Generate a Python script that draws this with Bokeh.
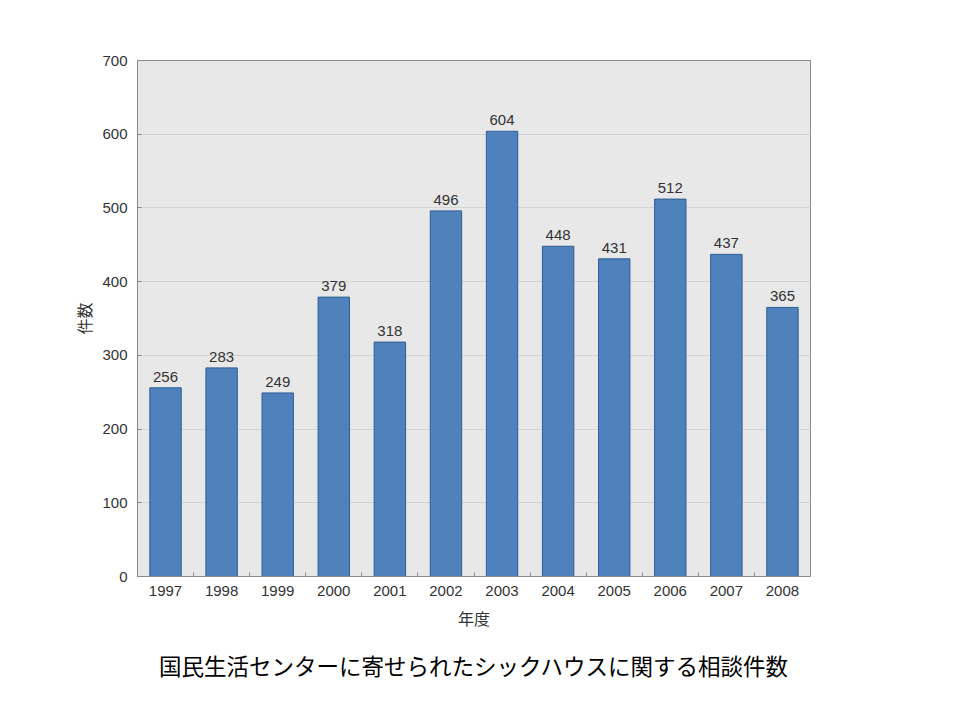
from bokeh.plotting import figure
from bokeh.models import ColumnDataSource, FixedTicker, Title
from bokeh.core.properties import value
from bokeh.embed import file_html
from bokeh.resources import INLINE

years = [1997, 1998, 1999, 2000, 2001, 2002, 2003, 2004, 2005, 2006, 2007, 2008]
counts = [256, 283, 249, 379, 318, 496, 604, 448, 431, 512, 437, 365]
y_ticks = [0, 100, 200, 300, 400, 500, 600, 700]
title_text = "国民生活センターに寄せられたシックハウスに関する相談件数"
x_label = "年度"
y_label = "件数"

labels = [str(c) for c in counts]
src = ColumnDataSource(dict(x=years, top=counts, label=labels))

AX = "#8a8a8a"
TXT = "#333333"

p = figure(width=940, height=705,
           x_range=(years[0] - 0.5, years[-1] + 0.5), y_range=(y_ticks[0], y_ticks[-1]),
           output_backend="svg", toolbar_location=None,
           min_border_left=137, min_border_right=130, min_border_top=60, min_border_bottom=129)
p.background_fill_color = "#e8e8e8"
p.border_fill_color = "white"
p.outline_line_color = AX

p.vbar(x="x", top="top", width=0.56, source=src,
       fill_color="#4f81bd", line_color="#2f5f94", line_width=1)
p.text(x="x", y="top", text="label", source=src, text_align="center", text_baseline="bottom",
       y_offset=-6, text_font=value("Liberation Sans"), text_font_size="15px", text_color=TXT)

xa = p.xaxis[0]
xa.ticker = FixedTicker(ticks=years, minor_ticks=[y + 0.5 for y in years[:-1]])
xa.major_tick_in = 0
xa.major_tick_out = 0
xa.minor_tick_in = 4
xa.minor_tick_out = 0
xa.minor_tick_line_color = AX
xa.axis_line_color = AX
xa.major_label_standoff = 9
xa.major_label_text_font = "Liberation Sans"
xa.major_label_text_font_size = "15px"
xa.major_label_text_color = TXT
xa.axis_label = x_label
xa.axis_label_standoff = 7
xa.axis_label_text_font = "Noto Sans CJK JP"
xa.axis_label_text_font_size = "16px"
xa.axis_label_text_font_style = "normal"
xa.axis_label_text_color = TXT

ya = p.yaxis[0]
ya.ticker = FixedTicker(ticks=y_ticks)
ya.major_tick_in = 4
ya.major_tick_out = 0
ya.minor_tick_line_color = None
ya.major_tick_line_color = AX
ya.axis_line_color = AX
ya.major_label_standoff = 10
ya.major_label_text_font = "Liberation Sans"
ya.major_label_text_font_size = "15px"
ya.major_label_text_color = TXT
ya.axis_label = y_label
ya.axis_label_standoff = 3
ya.axis_label_text_font = "Noto Sans CJK JP"
ya.axis_label_text_font_size = "16px"
ya.axis_label_text_font_style = "normal"
ya.axis_label_text_color = TXT

p.xgrid.grid_line_color = None
p.ygrid.ticker = FixedTicker(ticks=y_ticks)
p.ygrid.grid_line_color = "#d4d4d4"

t = Title(text=title_text, align="center", text_font="Noto Sans CJK JP",
          text_font_size="22.5px", text_font_style="normal", text_color="black", standoff=28)
p.add_layout(t, "below")

open("out.html", "w").write(file_html(p, INLINE))
